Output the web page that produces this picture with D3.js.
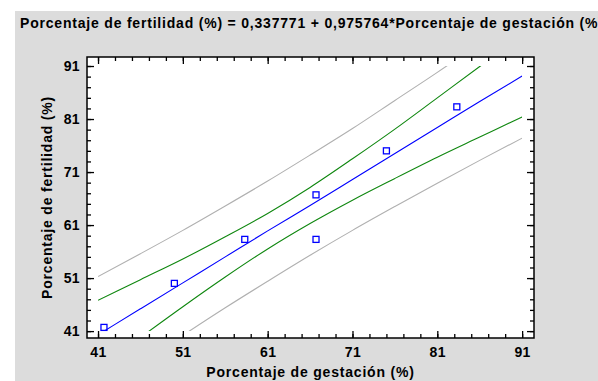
<!DOCTYPE html>
<html>
<head>
<meta charset="utf-8">
<script src="https://cdn.jsdelivr.net/npm/d3@7"></script>
<style>
  body { margin: 0; background: #fff; }
  svg text { font-family: "Liberation Sans", Arial, sans-serif; font-weight: bold; fill: #000; letter-spacing: 0.8px; }
</style>
</head>
<body>
<div id="chart"></div>
<script>
// observed points
const gestacion = [41.7, 50.0, 58.3, 66.7, 66.7, 75.0, 83.3];
const fertilidad = [41.7, 50.0, 58.3, 66.7, 58.3, 75.0, 83.3];

// fitted line and limits, read at these x positions
const gridX = [41, 46, 51, 56, 61, 66, 71, 76, 81, 86, 91];
const fitted = [40.3, 45.2, 50.1, 55.0, 59.9, 64.7, 69.6, 74.5, 79.4, 84.3, 89.1];
const confUpper = [46.8, 50.7, 54.6, 58.8, 63.2, 68.1, 73.5, 79.1, 85.0, 90.9, 96.9];
const confLower = [33.9, 39.8, 45.6, 51.2, 56.5, 61.3, 65.7, 69.8, 73.8, 77.6, 81.4];
const predUpper = [51.3, 55.6, 60.0, 64.6, 69.3, 74.2, 79.2, 84.5, 89.8, 95.3, 100.9];
const predLower = [29.4, 34.9, 40.2, 45.4, 50.4, 55.3, 60.0, 64.5, 68.9, 73.2, 77.4];

const majorTicks = [41, 51, 61, 71, 81, 91];
const minorTicks = d3.range(41, 92, 2);

const titleText = "Porcentaje de fertilidad (%) = 0,337771 + 0,975764*Porcentaje de gestación (%)";
const xTitle = "Porcentaje de gestación (%)";
const yTitle = "Porcentaje de fertilidad (%)";

const width = 598, height = 381;
const plot = { left: 87, right: 534, top: 57, bottom: 338 };

const svg = d3.select("#chart").append("svg").attr("width", width).attr("height", height);

svg.append("rect").attr("x", 15).attr("y", 11).attr("width", width - 15).attr("height", height - 11)
    .attr("fill", "#dcdcdc");

const x = d3.scaleLinear().domain([39.7, 92.4]).range([plot.left, plot.right]);
const y = d3.scaleLinear().domain([39.7, 92.7]).range([plot.bottom, plot.top]);

svg.append("rect").attr("x", plot.left).attr("y", plot.top)
    .attr("width", plot.right - plot.left).attr("height", plot.bottom - plot.top).attr("fill", "#fff");

svg.append("text").attr("x", 20).attr("y", 28).style("font-size", "14px").text(titleText);

// clip lines to the 41..91 box
svg.append("clipPath").attr("id", "band-clip").append("rect")
    .attr("x", x(41)).attr("y", y(91)).attr("width", x(91) - x(41)).attr("height", y(41) - y(91));

const line = d3.line().x(d => x(d[0])).y(d => y(d[1])).curve(d3.curveMonotoneX);
const series = [
    { vals: predUpper, color: "#b0b0b0" },
    { vals: predLower, color: "#b0b0b0" },
    { vals: confUpper, color: "#0f870f" },
    { vals: confLower, color: "#0f870f" },
    { vals: fitted, color: "#0000ff" }
];
const lines = svg.append("g").attr("clip-path", "url(#band-clip)");
series.forEach(s => {
    lines.append("path").datum(gridX.map((gx, i) => [gx, s.vals[i]]))
        .attr("d", line).attr("fill", "none").attr("stroke", s.color).attr("stroke-width", 1.1);
});

// points
svg.append("g").selectAll("rect").data(gestacion.map((g, i) => [g, fertilidad[i]])).join("rect")
    .attr("x", d => x(d[0]) - 3).attr("y", d => y(d[1]) - 3).attr("width", 6).attr("height", 6)
    .attr("fill", "none").attr("stroke", "#0000ff").attr("stroke-width", 1.3);

// axes with inward ticks on all sides
function addAxis(axis, tx, ty, vals, size, labels) {
    const g = svg.append("g").attr("transform", `translate(${tx},${ty})`)
        .call(axis.tickValues(vals).tickSize(-size).tickPadding(labels ? 9 : 0).tickFormat(labels ? d3.format("d") : ""));
    g.select(".domain").remove();
    g.selectAll("line").attr("stroke", "#000").attr("stroke-width", 1.3);
    g.selectAll("text").style("font-size", "14px").style("letter-spacing", "0.4px").attr("fill", "#000");
    return g;
}
addAxis(d3.axisBottom(x), 0, plot.bottom, minorTicks, 4, false);
addAxis(d3.axisBottom(x), 0, plot.bottom, majorTicks, 7, true);
addAxis(d3.axisTop(x), 0, plot.top, minorTicks, 4, false);
addAxis(d3.axisTop(x), 0, plot.top, majorTicks, 7, false);
addAxis(d3.axisLeft(y), plot.left, 0, minorTicks, 4, false);
const yAx = addAxis(d3.axisLeft(y), plot.left, 0, majorTicks, 7, true);
yAx.selectAll("text").attr("x", -7);
addAxis(d3.axisRight(y), plot.right, 0, minorTicks, 4, false);
addAxis(d3.axisRight(y), plot.right, 0, majorTicks, 7, false);

svg.append("rect").attr("x", plot.left).attr("y", plot.top)
    .attr("width", plot.right - plot.left).attr("height", plot.bottom - plot.top)
    .attr("fill", "none").attr("stroke", "#000").attr("stroke-width", 1.5);

svg.append("text").attr("x", (plot.left + plot.right) / 2).attr("y", 377)
    .attr("text-anchor", "middle").style("font-size", "14px").text(xTitle);

svg.append("text").attr("transform", `translate(52,${(plot.top + plot.bottom) / 2}) rotate(-90)`)
    .attr("text-anchor", "middle").style("font-size", "14px").text(yTitle);
</script>
</body>
</html>
